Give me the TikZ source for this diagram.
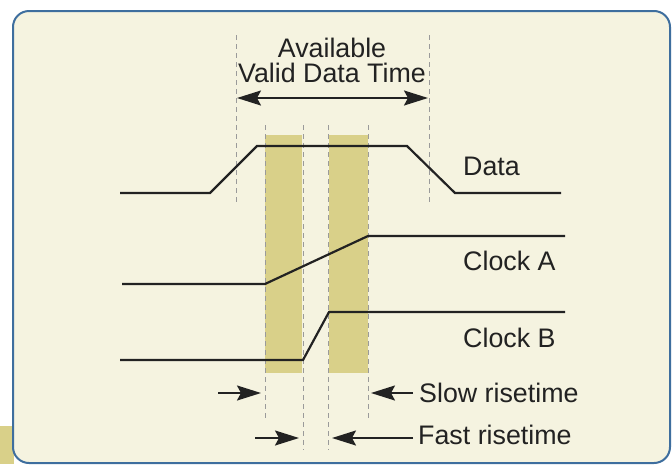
\documentclass[tikz,border=0pt]{standalone}
\usepackage{fontspec}
\setmainfont{Liberation Sans}
\usetikzlibrary{arrows.meta}
\definecolor{cream}{HTML}{F5F3E0}
\definecolor{khaki}{HTML}{D9D089}
\definecolor{frame}{HTML}{3E6E9E}
\definecolor{dashgray}{HTML}{9A9A9A}
\definecolor{ink}{HTML}{222222}
\tikzset{
  sig/.style={line width=2.2pt, draw=ink, line join=miter},
  guide/.style={draw=dashgray, line width=0.9pt, dash pattern=on 5pt off 4pt},
  txt/.style={font=\fontsize{26.8}{29}\selectfont, text=ink, inner sep=0pt},
  lbl/.style={txt, anchor=base west},
  ptr/.style={line width=1.9pt, draw=ink, -{Stealth[length=24pt 0,width=15pt 0,inset=4pt 0]}},
  bar/.style={fill=khaki, draw=none}
}
\begin{document}
\begin{tikzpicture}[x=1pt,y=-1pt]
\useasboundingbox (0,0) rectangle (672,464);
\fill[white] (0,0) rectangle (672,464);
\fill[khaki] (0,426) rectangle (14,464);
\draw[frame, line width=2pt, fill=cream, rounded corners=16pt] (13,11) rectangle (670,463);
% bars
\fill[bar] (265,135) rectangle (302,373);
\fill[bar] (329,135) rectangle (368,373);
% guides
\draw[guide] (236,35) -- (236,205);
\draw[guide] (429,35) -- (429,205);
\draw[guide] (265,125) -- (265,420);
\draw[guide] (368,125) -- (368,420);
\draw[guide] (303,125) -- (303,450);
\draw[guide] (328,125) -- (328,450);
% title
\node[txt, anchor=base] (avail) at (332,57) {Available};
\node[txt, anchor=base] (valid) at (332,82) {Valid Data Time};
\coordinate (vl) at (237,98);
\coordinate (vr) at (428,98);
\draw[line width=1.9pt, draw=ink, {Stealth[length=24pt 0,width=15pt 0,inset=4pt 0]}-{Stealth[length=24pt 0,width=15pt 0,inset=4pt 0]}] (vl) -- (vr);
% signals
\draw[sig] (120,193) -- (210,193) -- (257,146) -- (407,146) -- (455,193) -- (561,193);
\draw[sig] (122,284) -- (265,284) -- (368,236) -- (565,236);
\draw[sig] (120,360) -- (303,360) -- (329,312) -- (565,312);
% labels
\node[lbl] (data) at (463,175) {Data};
\node[lbl] (clka) at (463,270) {Clock A};
\node[lbl] (clkb) at (463,347) {Clock B};
\node[lbl] (slow) at (419,402) {Slow risetime};
\node[lbl] (fast) at (418,444) {Fast risetime};
% pointers
\coordinate (s1) at (218,393);
\coordinate (s1t) at (261,393);
\coordinate (s2) at (413,393);
\coordinate (s2t) at (371,393);
\coordinate (f1) at (255,438);
\coordinate (f1t) at (299,438);
\coordinate (f2) at (413,438);
\coordinate (f2t) at (332,438);
\draw[ptr] (s1) -- (s1t);
\draw[ptr] (s2) -- (s2t);
\draw[ptr] (f1) -- (f1t);
\draw[ptr] (f2) -- (f2t);
\end{tikzpicture}
\end{document}
